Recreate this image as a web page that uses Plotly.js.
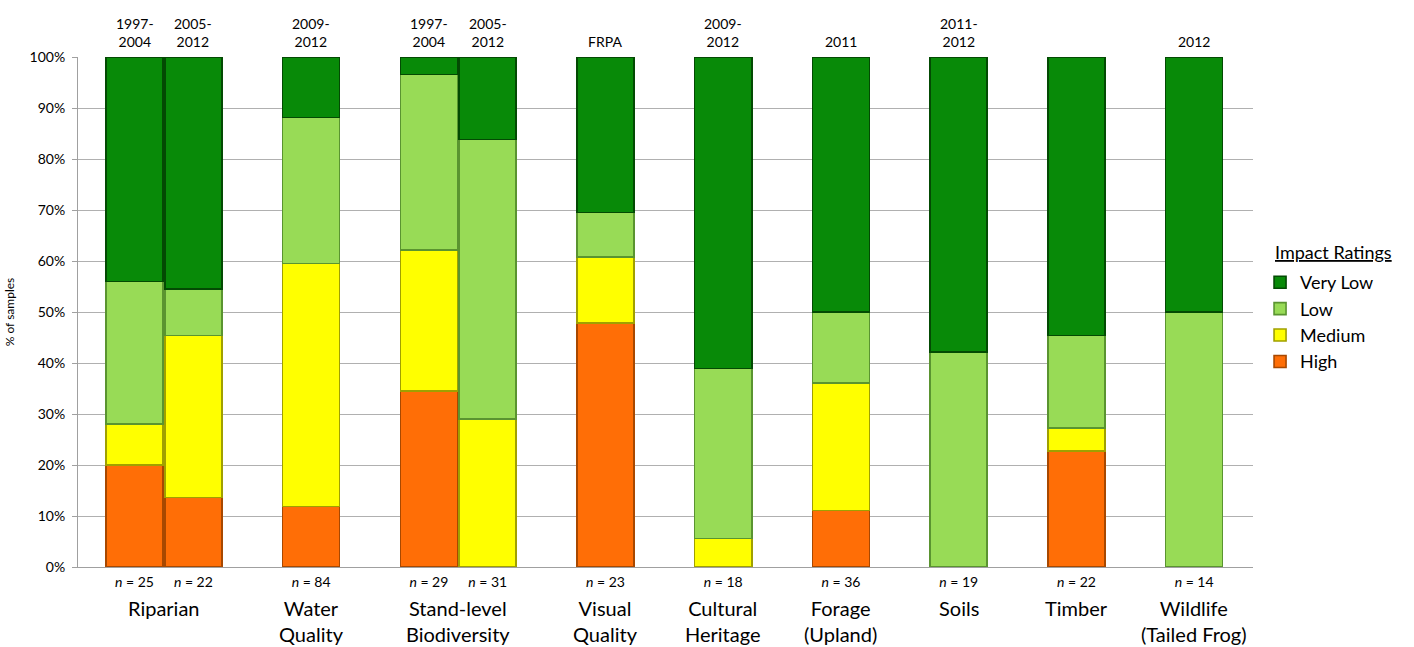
<!DOCTYPE html>
<html>
<head>
<meta charset="utf-8">
<script src="https://cdn.plot.ly/plotly-3.0.1.min.js"></script>
<style>
  html, body { margin: 0; padding: 0; background: #ffffff; }
  #chart { width: 1414px; height: 647px; }
</style>
</head>
<body>
<div id="chart"></div>
<script>
// ---- data ----
const groupNames = ['Riparian', 'Water<br>Quality', 'Stand-level<br>Biodiversity', 'Visual<br>Quality',
  'Cultural<br>Heritage', 'Forage<br>(Upland)', 'Soils', 'Timber', 'Wildlife<br>(Tailed Frog)'];
const barGroup = [0, 0, 1, 2, 2, 3, 4, 5, 6, 7, 8];
const periods = ['1997-<br>2004', '2005-<br>2012', '2009-<br>2012', '1997-<br>2004', '2005-<br>2012',
  'FRPA', '2009-<br>2012', '2011', '2011-<br>2012', '', '2012'];
const sampleSizes = [25, 22, 84, 29, 31, 23, 18, 36, 19, 22, 14];
const ratings = ['High', 'Medium', 'Low', 'Very Low'];
const legendTitle = 'Impact Ratings';
const high    = [20.0, 13.6, 11.9, 34.5, 0.0, 47.8, 0.0, 11.1, 0.0, 22.7, 0.0];
const medium  = [8.0, 31.8, 47.6, 27.6, 29.0, 13.0, 5.6, 25.0, 0.0, 4.5, 0.0];
const low     = [28.0, 9.1, 28.6, 34.5, 54.8, 8.7, 33.3, 13.9, 42.1, 18.2, 50.0];
const veryLow = [44.0, 45.5, 11.9, 3.4, 16.1, 30.4, 61.1, 50.0, 57.9, 54.5, 50.0];
const yTicks = [0, 10, 20, 30, 40, 50, 60, 70, 80, 90, 100];

// ---- slot positions derived from the group structure (one blank slot between groups) ----
const slots = [];
let s = 0;
for (let i = 0; i < barGroup.length; i++) {
  if (i > 0 && barGroup[i] !== barGroup[i - 1]) s += 1;
  slots.push(s);
  s += 1;
}
const groupCenters = groupNames.map((g, gi) => {
  const xs = slots.filter((x, i) => barGroup[i] === gi);
  return xs.reduce((a, b) => a + b, 0) / xs.length;
});
const nLabels = sampleSizes.map(n => '<i>n</i> = ' + n);

const FONT = 'Lato, "Open Sans", sans-serif';
const colors = ['#FF6E06', '#FFFF00', '#98DB56', '#088A08'];
const lineColors = ['#A84800', '#A0A000', '#5A9430', '#034A03'];
const series = [high, medium, low, veryLow];

const traces = series.map((vals, k) => ({
  type: 'bar',
  name: ratings[k],
  x: slots,
  y: vals,
  width: 0.97,
  marker: { color: colors[k], line: { color: lineColors[k], width: 1.6 } },
  hoverinfo: 'skip'
}));

const annotations = [];
periods.forEach((p, i) => {
  if (!p) return;
  annotations.push({
    x: slots[i], xref: 'x', y: 1, yref: 'paper', yanchor: 'bottom', yshift: 5,
    text: p, showarrow: false, font: { family: FONT, size: 14, color: '#000' }
  });
});
groupNames.forEach((g, gi) => {
  annotations.push({
    x: groupCenters[gi], xref: 'x', y: 0, yref: 'paper', yanchor: 'top', yshift: -27,
    text: g, showarrow: false, font: { family: FONT, size: 20, color: '#000' }
  });
});
annotations.push({
  x: 1.017, xref: 'paper', xanchor: 'left', y: 0.618, yref: 'paper', yanchor: 'middle',
  text: legendTitle, showarrow: false,
  font: { family: FONT, size: 18, color: '#000', lineposition: 'under' }
});

const layout = {
  width: 1414, height: 647,
  margin: { l: 78, r: 161, t: 57, b: 80 },
  paper_bgcolor: '#ffffff', plot_bgcolor: '#ffffff',
  barmode: 'stack',
  bargap: 0,
  showlegend: true,
  font: { family: FONT, color: '#000' },
  xaxis: {
    range: [-0.96, 19.0],
    tickmode: 'array', tickvals: slots, ticktext: nLabels,
    tickfont: { family: FONT, size: 14, color: '#000' },
    showgrid: false, zeroline: false, showline: true, linecolor: '#A0A0A0', linewidth: 1,
    ticks: '', ticklabelstandoff: 2, fixedrange: true
  },
  yaxis: {
    range: [0, 100],
    tickmode: 'array', tickvals: yTicks, ticktext: yTicks.map(v => v + '%'),
    tickfont: { family: FONT, size: 14, color: '#000' },
    showgrid: true, gridcolor: '#B0B0B0', gridwidth: 1,
    zeroline: false, showline: true, linecolor: '#A0A0A0', linewidth: 1,
    ticks: 'outside', ticklen: 5, tickcolor: '#A0A0A0', ticklabelstandoff: 4,
    title: { text: '% of samples', font: { family: FONT, size: 12, color: '#000' }, standoff: 12 },
    fixedrange: true
  },
  legend: {
    x: 1.006, xanchor: 'left', y: 0.594, yanchor: 'top',
    traceorder: 'reversed',
    font: { family: FONT, size: 18, color: '#000' },
    itemwidth: 30, tracegroupgap: 0,
    bgcolor: 'rgba(0,0,0,0)'
  },
  annotations: annotations
};

Plotly.newPlot('chart', traces, layout, { displayModeBar: false, staticPlot: true });
</script>
</body>
</html>
